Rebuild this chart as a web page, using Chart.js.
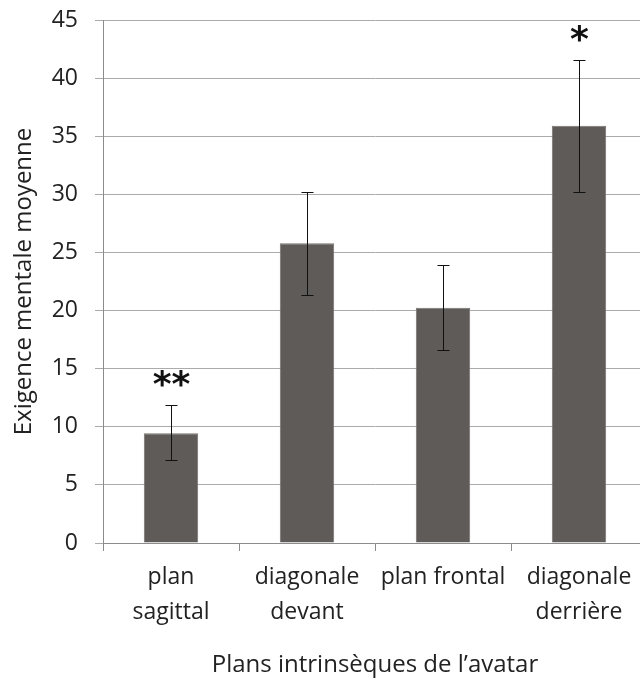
<!DOCTYPE html>
<html>
<head>
<meta charset="utf-8">
<script src="https://cdn.jsdelivr.net/npm/chart.js@4"></script>
<style>
  html, body { margin: 0; padding: 0; background: #fff; overflow: hidden; }
  #wrap { width: 647px; height: 684px; position: relative; }
</style>
</head>
<body>
<div id="wrap"><canvas id="chart"></canvas></div>
<script>
const categories = [['plan', 'sagittal'], ['diagonale', 'devant'], 'plan frontal', ['diagonale', 'derrière']];
const means = [9.45, 25.8, 20.25, 35.9];
const errLow = [7.1, 21.3, 16.6, 30.2];
const errHigh = [11.85, 30.2, 23.9, 41.6];
const stars = ['**', '', '', '*'];

const textColor = '#222';

// draws the error bars and the significance stars on top of the bars
const errorBars = {
    id: 'errorBars',
    afterDatasetsDraw(chart) {
        const ctx = chart.ctx;
        const x = chart.scales.x;
        const y = chart.scales.y;
        ctx.save();
        ctx.strokeStyle = '#111';
        ctx.lineWidth = 1;
        means.forEach((m, i) => {
            const cx = Math.round(x.getPixelForValue(i)) + 0.5;
            const top = Math.round(y.getPixelForValue(errHigh[i])) + 0.5;
            const bot = Math.round(y.getPixelForValue(errLow[i])) + 0.5;
            ctx.beginPath();
            ctx.moveTo(cx, top); ctx.lineTo(cx, bot);
            ctx.moveTo(cx - 6, top); ctx.lineTo(cx + 6, top);
            ctx.moveTo(cx - 6, bot); ctx.lineTo(cx + 6, bot);
            ctx.stroke();
            if (stars[i]) {
                ctx.fillStyle = '#111';
                ctx.font = 'bold 36px "DejaVu Sans"';
                ctx.textAlign = 'center';
                ctx.textBaseline = 'alphabetic';
                ctx.fillText(stars[i], cx, top - 10);
            }
        });
        ctx.restore();
    }
};

new Chart(document.getElementById('chart'), {
    type: 'bar',
    data: {
        labels: categories,
        datasets: [{
            data: means,
            backgroundColor: '#5f5b59',
            borderColor: '#77726f',
            borderWidth: 1,
            barPercentage: 0.4,
            categoryPercentage: 1.0
        }]
    },
    options: {
        responsive: true,
        maintainAspectRatio: false,
        animation: false,
        layout: { padding: { top: 20, right: 0, left: 0, bottom: 0 } },
        plugins: {
            legend: { display: false },
            tooltip: { enabled: false }
        },
        scales: {
            x: {
                afterFit: scale => { scale.height = 141; },
                grid: {
                    offset: true,
                    drawOnChartArea: false,
                    tickLength: 8,
                    color: '#8c8c8c'
                },
                border: { color: '#8c8c8c' },
                ticks: {
                    color: textColor,
                    font: { family: 'Open Sans', size: 23, lineHeight: 1.52 },
                    padding: 9,
                    maxRotation: 0,
                    autoSkip: false
                },
                title: {
                    display: true,
                    text: 'Plans intrinsèques de l’avatar',
                    color: textColor,
                    font: { family: 'Open Sans', size: 24 },
                    padding: { top: 0, bottom: 4 }
                }
            },
            y: {
                min: 0,
                max: 45,
                afterFit: scale => { scale.width = 103; },
                grid: {
                    color: '#ababab',
                    tickLength: 8
                },
                border: { color: '#8c8c8c' },
                ticks: {
                    stepSize: 5,
                    color: textColor,
                    // small lineHeight so the label padding does not push the plot top down
                    font: { family: 'Open Sans', size: 23, lineHeight: 0.2 },
                    padding: 17
                },
                title: {
                    display: true,
                    text: 'Exigence mentale moyenne',
                    color: textColor,
                    font: { family: 'Open Sans', size: 24 },
                    padding: { top: 10, bottom: 0 }
                }
            }
        }
    },
    plugins: [errorBars]
});
</script>
</body>
</html>
